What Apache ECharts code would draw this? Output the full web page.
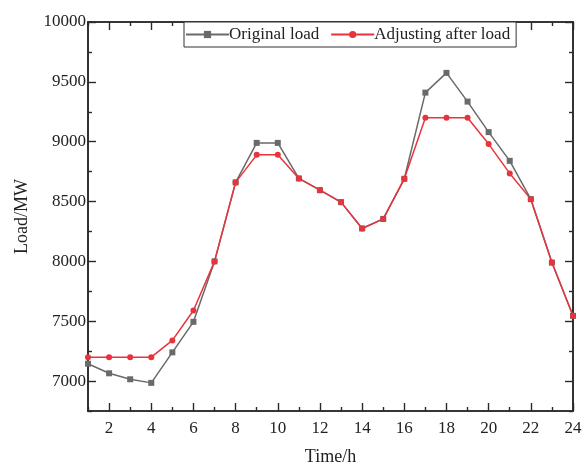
<!DOCTYPE html>
<html>
<head>
<meta charset="utf-8">
<script src="https://cdn.jsdelivr.net/npm/echarts@6/dist/echarts.min.js"></script>
<style>
  html, body { margin: 0; padding: 0; background: #fff; }
  #chart { width: 587px; height: 471px; }
</style>
</head>
<body>
<div id="chart"></div>
<script>
// 数据
var hours = [1,2,3,4,5,6,7,8,9,10,11,12,13,14,15,16,17,18,19,20,21,22,23,24];
var originalLoad = [7145,7065,7015,6985,7240,7495,8000,8660,8990,8990,8693,8595,8495,8275,8355,8690,9410,9575,9335,9080,8840,8520,7990,7545];
var adjustedLoad = [7200,7200,7200,7200,7340,7590,8000,8660,8890,8890,8693,8595,8495,8275,8355,8690,9200,9200,9200,8980,8735,8520,7990,7545];
var xMajorTicks = [2,4,6,8,10,12,14,16,18,20,22,24];
var xMinorTicks = [1,3,5,7,9,11,13,15,17,19,21,23];
var yMajorTicks = [7000,7500,8000,8500,9000,9500,10000];
var yMinorTicks = [6750,7250,7750,8250,8750,9250,9750];

var font = 'Liberation Serif';
var axisColor = '#2a2a2a';

function pairs(vals) {
  return hours.map(function (h, i) { return [h, vals[i]]; });
}

// 坐标轴: 主刻度 / 次刻度 分开画
function xAxisOf(pos, ticks, len, showLabel, name) {
  return {
    type: 'value', position: pos, min: 1, max: 24,
    name: name || '', nameLocation: 'middle', nameGap: 37,
    nameTextStyle: { fontFamily: font, fontSize: 18, color: '#222' },
    axisLine: { show: true, onZero: false, lineStyle: { color: axisColor, width: 1.6 } },
    axisTick: { show: true, inside: true, length: len, customValues: ticks,
      lineStyle: { color: axisColor, width: 1.4 } },
    axisLabel: { show: showLabel, customValues: ticks, margin: 9,
      fontFamily: font, fontSize: 17, color: '#222',
      formatter: function (v) { return String(v); } },
    splitLine: { show: false }
  };
}
function yAxisOf(pos, ticks, len, showLabel, name) {
  return {
    type: 'value', position: pos, min: 6750, max: 10000,
    name: name || '', nameLocation: 'middle', nameGap: 57,
    nameTextStyle: { fontFamily: font, fontSize: 18, color: '#222' },
    axisLine: { show: true, onZero: false, lineStyle: { color: axisColor, width: 1.6 } },
    axisTick: { show: true, inside: true, length: len, customValues: ticks,
      lineStyle: { color: axisColor, width: 1.4 } },
    axisLabel: { show: showLabel, customValues: ticks, margin: 2,
      fontFamily: font, fontSize: 17, color: '#222',
      formatter: function (v) { return String(v); } },
    splitLine: { show: false }
  };
}

var chart = echarts.init(document.getElementById('chart'), null, { renderer: 'canvas' });
var option = {
  animation: false,
  backgroundColor: '#fff',
  grid: { left: 88, right: 14, top: 22, bottom: 55 },
  legend: {
    left: 184, top: 22,
    orient: 'horizontal',
    itemWidth: 43, itemHeight: 9, itemGap: 11,
    padding: [4, 6, 4, 1],
    borderColor: '#333', borderWidth: 1,
    backgroundColor: '#fff',
    textStyle: { fontFamily: font, fontSize: 17, color: '#222', padding: [0, 0, 0, -5] },
    data: ['Original load', 'Adjusting after load']
  },
  xAxis: [
    xAxisOf('bottom', xMajorTicks, 8, true, 'Time/h'),
    xAxisOf('bottom', xMinorTicks, 4, false),
    xAxisOf('top', xMajorTicks, 8, false),
    xAxisOf('top', xMinorTicks, 4, false)
  ],
  yAxis: [
    yAxisOf('left', yMajorTicks, 8, true, 'Load/MW'),
    yAxisOf('left', yMinorTicks, 4, false),
    yAxisOf('right', yMajorTicks, 8, false),
    yAxisOf('right', yMinorTicks, 4, false)
  ],
  series: [
    {
      name: 'Original load', type: 'line',
      xAxisIndex: 0, yAxisIndex: 0,
      data: pairs(originalLoad),
      symbol: 'rect', symbolSize: 6,
      lineStyle: { color: '#6a6a6a', width: 1.5 },
      itemStyle: { color: '#6a6a6a' }
    },
    {
      name: 'Adjusting after load', type: 'line',
      xAxisIndex: 0, yAxisIndex: 0,
      data: pairs(adjustedLoad),
      symbol: 'circle', symbolSize: 6,
      lineStyle: { color: '#e8333c', width: 1.5 },
      itemStyle: { color: '#e8333c' }
    }
  ]
};
chart.setOption(option);
</script>
</body>
</html>
